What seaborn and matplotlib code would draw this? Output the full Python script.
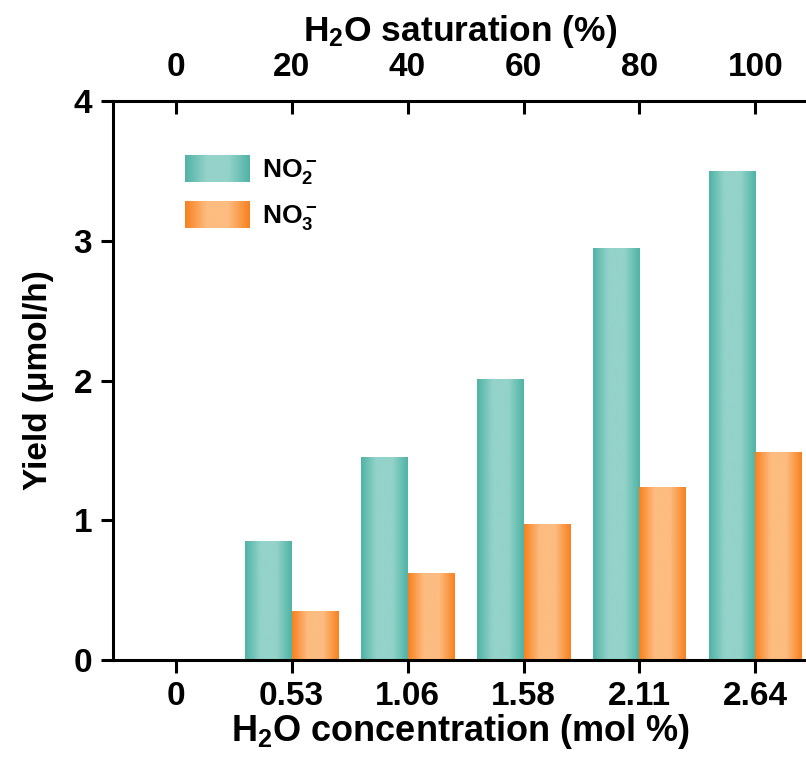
import numpy as np
import pandas as pd
import matplotlib
matplotlib.use("Agg")
import matplotlib.pyplot as plt
import seaborn as sns
from matplotlib.colors import LinearSegmentedColormap
from matplotlib.patches import Patch

sns.set_style("white")
plt.rcParams['font.family'] = ['Liberation Sans', 'DejaVu Sans']
plt.rcParams['font.weight'] = 'bold'
plt.rcParams['mathtext.fontset'] = 'custom'
plt.rcParams['mathtext.rm'] = 'Liberation Sans:bold'
plt.rcParams['mathtext.bf'] = 'Liberation Sans:bold'
plt.rcParams['mathtext.it'] = 'Liberation Sans:bold'
plt.rcParams['mathtext.default'] = 'bf'
for k in ['text.color', 'axes.labelcolor', 'xtick.color', 'ytick.color', 'axes.edgecolor']:
    plt.rcParams[k] = 'black'

# ---- data ----
conc_labels = ["0", "0.53", "1.06", "1.58", "2.11", "2.64"]
sat_labels = ["0", "20", "40", "60", "80", "100"]
no2_yield = [0.0, 0.85, 1.45, 2.01, 2.95, 3.50]
no3_yield = [0.0, 0.35, 0.62, 0.97, 1.24, 1.49]
series = [r"NO$_2^-$", r"NO$_3^-$"]

df = pd.DataFrame({
    "conc": conc_labels * 2,
    "yield": no2_yield + no3_yield,
    "ion": [series[0]] * 6 + [series[1]] * 6,
})

teal_edge, teal_mid = "#4fb3a5", "#94d3ca"
orange_edge, orange_mid = "#f8801e", "#fdbc80"
cmaps = [
    LinearSegmentedColormap.from_list("t", [teal_edge, teal_mid, teal_mid, teal_edge], N=256),
    LinearSegmentedColormap.from_list("o", [orange_edge, orange_mid, orange_mid, orange_edge], N=256),
]
grad = np.linspace(0, 1, 256).reshape(1, -1)

fig = plt.figure(figsize=(8.06, 7.65), dpi=100)
ax = fig.add_axes([113 / 806, 1 - 660 / 765, 1 - 113 / 806 + 0.002, (660 - 101) / 765])

sns.barplot(data=df, x="conc", y="yield", hue="ion", order=conc_labels,
            hue_order=series, palette=[teal_mid, orange_mid], width=0.8,
            saturation=1, ax=ax, legend=False, linewidth=0)

# gradient fills clipped to bars
for cont, cm in zip(ax.containers, cmaps):
    for bar in cont:
        x0, y0 = bar.get_x(), bar.get_y()
        w, h = bar.get_width(), bar.get_height()
        if h <= 0:
            continue
        im = ax.imshow(grad, cmap=cm, aspect="auto", extent=[x0, x0 + w, y0, y0 + h],
                       interpolation="bicubic", zorder=bar.get_zorder() + 0.1)
        im.set_clip_path(bar)

ax.set_xlim(-0.54, 5.45)
ax.set_ylim(0, 4)
ax.set_yticks([0, 1, 2, 3, 4])
ax.set_xticks(range(6))
ax.set_xticklabels(conc_labels)

for s in ["left", "bottom", "top"]:
    ax.spines[s].set_visible(True)
    ax.spines[s].set_linewidth(2.2)
    ax.spines[s].set_color("black")
ax.spines["right"].set_visible(False)

ax.tick_params(axis="both", direction="out", length=9, width=2.2, labelsize=24,
               color="black", labelcolor="black", bottom=True, left=True, pad=6)
ax.set_xlabel(r"H$_2$O concentration (mol %)", fontsize=26, fontweight="bold", labelpad=0)
ax.set_ylabel("Yield (μmol/h)", fontsize=24, fontweight="bold", labelpad=14)

top = ax.twiny()
top.set_xlim(ax.get_xlim())
top.set_xticks(range(6))
top.set_xticklabels(sat_labels)
top.tick_params(axis="x", direction="in", length=9, width=2.2, labelsize=24, pad=13,
                top=True, color="black", labelcolor="black")
for s in top.spines.values():
    s.set_visible(False)
top.set_xlabel(r"H$_2$O saturation (%)", fontsize=25.5, fontweight="bold", labelpad=8)

handles = [Patch(facecolor=teal_mid, label=series[0]),
           Patch(facecolor=orange_mid, label=series[1])]
leg = ax.legend(handles=handles, loc="upper left", bbox_to_anchor=(0.104, 0.903),
                frameon=False, fontsize=19, handlelength=2.46, handleheight=1.18,
                labelspacing=0.55, handletextpad=0.45, borderaxespad=0, borderpad=0)
fig.canvas.draw()
for p, cm in zip(leg.get_patches(), cmaps):
    bb = p.get_window_extent().transformed(fig.transFigure.inverted())
    lax = fig.add_axes([bb.x0, bb.y0, bb.width, bb.height])
    lax.imshow(grad, cmap=cm, aspect="auto", interpolation="bicubic")
    lax.set_axis_off()

fig.savefig("out.png", dpi=100)
